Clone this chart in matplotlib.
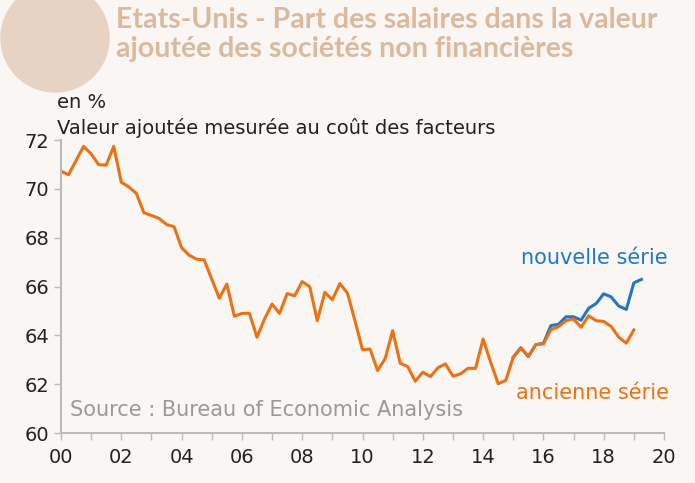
import numpy as np
import matplotlib
matplotlib.use("Agg")
import matplotlib.pyplot as plt
from matplotlib.patches import Ellipse

ancienne = [70.72,70.58,71.16,71.74,71.43,70.99,70.97,71.74,70.27,70.08,69.81,69.02,68.91,68.79,68.54,68.45,
            67.59,67.28,67.12,67.09,66.30,65.52,66.10,64.78,64.90,64.90,63.92,64.67,65.28,64.90,65.71,65.62,
            66.20,65.99,64.60,65.76,65.46,66.12,65.73,64.60,63.41,63.44,62.56,63.04,64.19,62.86,62.72,62.12,
            62.49,62.31,62.67,62.83,62.33,62.42,62.65,62.65,63.85,62.90,62.02,62.15,63.10,63.49,63.13,63.62,
            63.65,64.23,64.36,64.60,64.67,64.33,64.80,64.60,64.57,64.36,63.92,63.68,64.22]
nouvelle = [63.10,63.49,63.13,63.62,63.67,64.40,64.45,64.76,64.76,64.62,65.11,65.30,65.70,65.57,65.20,65.06,66.15,66.29]
nouvelle_start = 2015.0
xticklabels = ["00","02","04","06","08","10","12","14","16","18","20"]

bg = "#f9f6f3"
orange = "#ec7114"
blue = "#1f77c9"
tan = "#dcb99c"

fig = plt.figure(figsize=(6.95,4.83), dpi=100, facecolor=bg)
ax = fig.add_axes([61/695, 50/483, 603/695, 293/483], facecolor=bg)
xa = 2000 + np.arange(len(ancienne))/4
xn = nouvelle_start + np.arange(len(nouvelle))/4
ax.plot(xn, nouvelle, color=blue, lw=2.2)
ax.plot(xa, ancienne, color=orange, lw=2.2)
ax.set_xlim(2000, 2020)
ax.set_ylim(60, 72)
ax.set_yticks(range(60, 73, 2))
ax.set_xticks(range(2000, 2021, 2))
ax.set_xticklabels(xticklabels)
ax.set_xticks(range(2000, 2021), minor=True)
for s in ["top","right"]:
    ax.spines[s].set_visible(False)
for s in ["left","bottom"]:
    ax.spines[s].set_color("#bbbbbb")
    ax.spines[s].set_linewidth(1.5)
ax.tick_params(which="both", color="#bbbbbb", length=5, width=1, labelsize=14, labelcolor="#222222")
ax.tick_params(axis="x", pad=6)

fig.text(57/695, 1-103/483, "en %", fontsize=14, color="#222222", va="center")
fig.text(57/695, 1-128/483, "Valeur ajoutée mesurée au coût des facteurs", fontsize=14, color="#222222", va="center")
fig.text(70/695, 1-410/483, "Source : Bureau of Economic Analysis", fontsize=15, color="#999999", va="center")
fig.text(521/695, 1-258/483, "nouvelle série", fontsize=15, color=blue, va="center")
fig.text(516/695, 1-393/483, "ancienne série", fontsize=15, color=orange, va="center")
fig.text(116/695, 1-20/483, "Etats-Unis - Part des salaires dans la valeur", fontsize=20.5, color=tan, va="center", family="Lato", weight="bold")
fig.text(116/695, 1-49/483, "ajoutée des sociétés non financières", fontsize=20.5, color=tan, va="center", family="Lato", weight="bold")
fig.patches.append(Ellipse((55/695, 1-38/483), 108/695, 108/483, transform=fig.transFigure, color="#e8d2c1", zorder=0))
fig.savefig("out.png", dpi=100, facecolor=bg)
